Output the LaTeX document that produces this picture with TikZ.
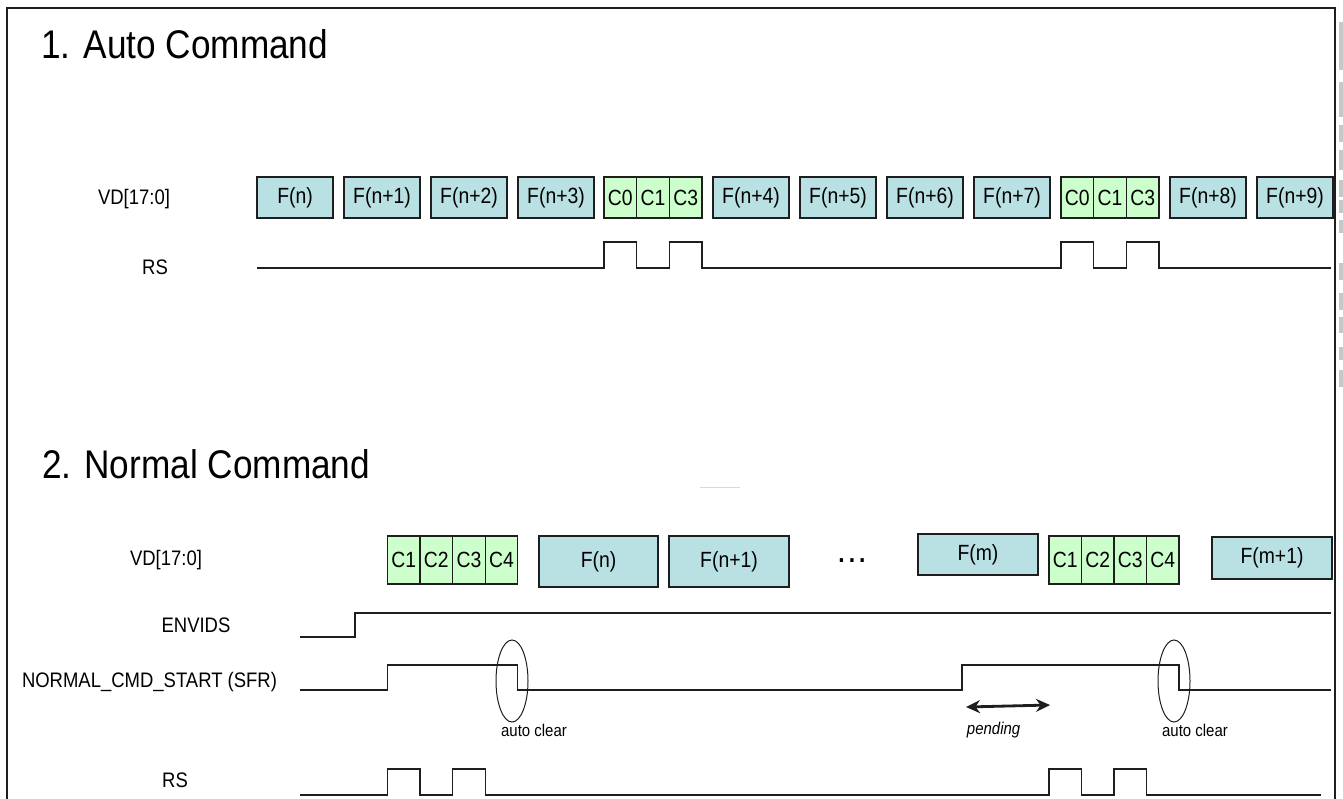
\documentclass[tikz,border=0pt]{standalone}
\usepackage{fontspec}
\setmainfont[FakeStretch=0.88]{Liberation Sans}
\usetikzlibrary{arrows.meta,shapes.geometric}
\definecolor{fcol}{RGB}{185,224,226}
\definecolor{ccol}{RGB}{204,255,204}
\definecolor{ink}{RGB}{30,30,30}
\tikzset{
  fbox/.style={draw=ink, fill=fcol, line width=1.1pt, inner sep=0pt, outer sep=0pt, font=\fontsize{22}{24}\selectfont},
  cbox/.style={draw=ink, fill=ccol, line width=1.1pt, inner sep=0pt, outer sep=0pt, minimum width=32.6pt, font=\fontsize{22}{24}\selectfont},
  lbl/.style={inner sep=0pt, font=\fontsize{21}{23}\selectfont},
  ttl/.style={inner sep=0pt, anchor=base west, font=\fontsize{40}{44}\selectfont},
  wave/.style={line width=1.3pt, draw=ink},
  note/.style={inner sep=0pt, font=\fontsize{17}{19}\selectfont},
  ring/.style={ellipse, draw=ink, line width=1pt, inner sep=0pt, minimum width=32pt, minimum height=82pt},
  artifact/.style={fill=black!22, draw=none}
}
\begin{document}
\begin{tikzpicture}[x=1pt,y=-1pt]
\useasboundingbox (0,0) rectangle (1343,798);
\fill[white] (0,0) rectangle (1343,798);
\draw[line width=1.6pt, ink] (7,800) -- (7,8) -- (1335,8) -- (1335,800);
\foreach \a/\b in {22/70,82/117,125/142,150/170,180/197,200/213,220/233,263/280,293/310,317/333,347/360,370/387}
  \fill[artifact] (1339,\a) rectangle (1343,\b);
\draw[black!15, line width=0.6pt] (700,487) -- (740,487);

% titles
\node[ttl] (t1) at (41,58) {1. Auto Command};
\node[ttl] (t2) at (42,478) {2. Normal Command};

% ---------- section 1 ----------
\node[lbl] (vd1) at (134,199.5) {VD[17:0]};
\node[lbl] (rs1) at (155,267) {RS};
\foreach \n/\x/\t in {a/295/F(n),b/382/F(n+1),c/469/F(n+2),d/556/F(n+3),e/751/F(n+4),f/838/F(n+5),g/925/F(n+6),h/1012/F(n+7),i/1208/F(n+8),j/1295/F(n+9)}
  \node[fbox, minimum width=76pt, minimum height=41pt] (f1\n) at (\x,197.5) {\t};
\foreach \n/\x/\t in {a/620.3/C0,b/653/C1,c/685.7/C3,d/1077.3/C0,e/1110/C1,f/1142.7/C3}
  \node[cbox, minimum height=41pt] (c1\n) at (\x,197.5) {\t};
\coordinate (rs1s) at (257,268);
\coordinate (rs1e) at (1331,268);
\draw[wave] (rs1s)
  -- (c1a.west |- rs1s) -- (c1a.west |- 0,242) -- (c1a.east |- 0,242) -- (c1a.east |- rs1s)
  -- (c1c.west |- rs1s) -- (c1c.west |- 0,242) -- (c1c.east |- 0,242) -- (c1c.east |- rs1s)
  -- (c1d.west |- rs1s) -- (c1d.west |- 0,242) -- (c1d.east |- 0,242) -- (c1d.east |- rs1s)
  -- (c1f.west |- rs1s) -- (c1f.west |- 0,242) -- (c1f.east |- 0,242) -- (c1f.east |- rs1s)
  -- (rs1e);

% ---------- section 2 ----------
\node[lbl] (vd2) at (166,560) {VD[17:0]};
\node[lbl] (env) at (196,625.5) {ENVIDS};
\node[lbl] (ncs) at (149.5,682.5) {NORMAL\_CMD\_START (SFR)};
\node[lbl] (rs2) at (175,780) {RS};

\foreach \n/\x/\t in {a/403.8/C1,b/436.3/C2,c/468.9/C3,d/501.4/C4,e/1065.25/C1,f/1097.75/C2,g/1130.25/C3,h/1162.75/C4}
  \node[cbox, minimum width=32.55pt, minimum height=48pt] (c2\n) at (\x,560) {\t};
\node[fbox, minimum width=119pt, minimum height=51pt] (f2a) at (598.5,561.5) {F(n)};
\node[fbox, minimum width=120pt, minimum height=51pt] (f2b) at (729,561.5) {F(n+1)};
\node[fbox, minimum width=120pt, minimum height=41pt] (f2c) at (978,554.5) {F(m)};
\node[fbox, minimum width=120pt, minimum height=42pt] (f2d) at (1272,558) {F(m+1)};
\node[inner sep=0pt, font=\fontsize{26}{28}\selectfont\bfseries] (dots) at (852,561) {.\hspace{4pt}.\hspace{4pt}.};

% ENVIDS
\coordinate (envs) at (300,637);
\coordinate (enve) at (1331,613);
\draw[wave] (envs) -- (355,637) -- (355,613) -- (enve);

% NORMAL_CMD_START
\coordinate (ncss) at (300,690);
\coordinate (ncse) at (1331,690);
\coordinate (ncsr) at (962,690);
\draw[wave] (ncss)
  -- (c2a.west |- ncss) -- (c2a.west |- 0,665) -- (c2d.east |- 0,665) -- (c2d.east |- ncss)
  -- (ncsr) -- (ncsr |- 0,665) -- (c2h.east |- 0,665) -- (c2h.east |- ncss)
  -- (ncse);
\node[ring] (ring1) at (512,681) {};
\node[ring] (ring2) at (1174,681) {};
\node[note] (ac1) at (534,730) {auto clear};
\node[note] (ac2) at (1195,730) {auto clear};

% pending
\coordinate (pl) at (966,707);
\coordinate (pr) at (1050,705);
\draw[line width=2.8pt, ink, {Stealth[length=14pt,width=13pt]}-{Stealth[length=14pt,width=13pt]}] (pl) -- (pr);
\node[note, font=\fontsize{17}{19}\selectfont\itshape] (pend) at (993.6,730) {pending};

% RS (section 2)
\coordinate (rs2s) at (300,795);
\coordinate (rs2e) at (1321,795);
\draw[wave] (rs2s)
  -- (c2a.west |- rs2s) -- (c2a.west |- 0,769) -- (c2a.east |- 0,769) -- (c2a.east |- rs2s)
  -- (c2c.west |- rs2s) -- (c2c.west |- 0,769) -- (c2c.east |- 0,769) -- (c2c.east |- rs2s)
  -- (c2e.west |- rs2s) -- (c2e.west |- 0,769) -- (c2e.east |- 0,769) -- (c2e.east |- rs2s)
  -- (c2g.west |- rs2s) -- (c2g.west |- 0,769) -- (c2g.east |- 0,769) -- (c2g.east |- rs2s)
  -- (rs2e);
\end{tikzpicture}
\end{document}
